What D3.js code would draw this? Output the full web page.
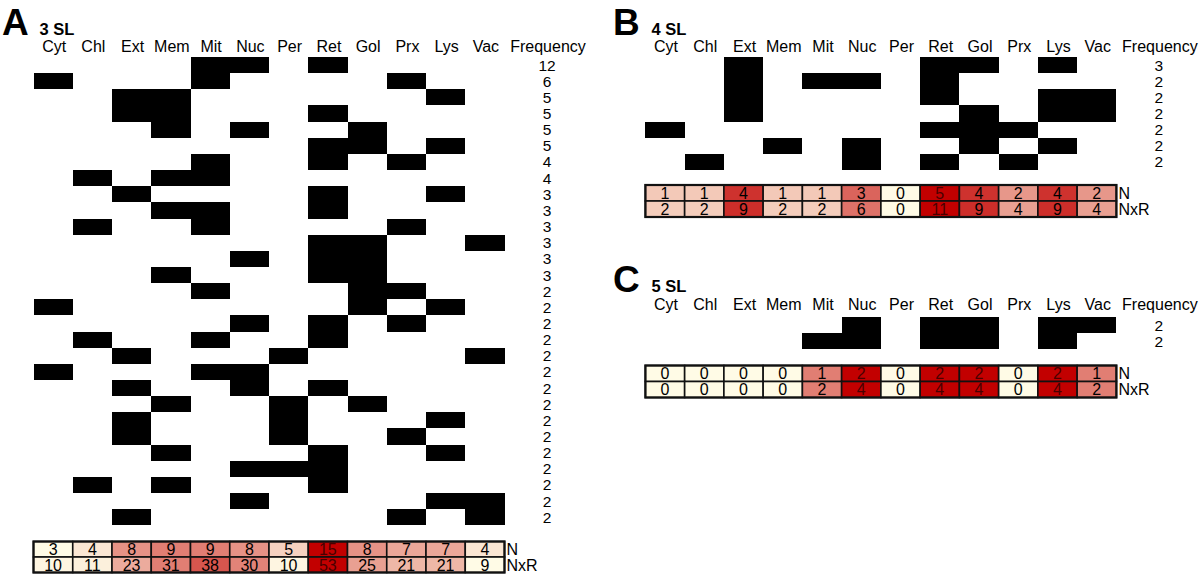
<!DOCTYPE html>
<html><head><meta charset="utf-8">
<script src="https://cdn.jsdelivr.net/npm/d3@7"></script>
<style>html,body{margin:0;padding:0;background:#fff;}svg{display:block;font-family:"Liberation Sans",Arial,Helvetica,sans-serif;}</style>
</head><body><svg id="c" width="1200" height="575"></svg>
<script>
const locations = ["Cyt","Chl","Ext","Mem","Mit","Nuc","Per","Ret","Gol","Prx","Lys","Vac"];

// Panel A: 3 subcellular locations
const combosA = [
  ["Mit","Nuc","Ret"],["Cyt","Mit","Prx"],["Ext","Mem","Lys"],["Ext","Mem","Ret"],
  ["Mem","Nuc","Gol"],["Ret","Gol","Lys"],["Mit","Ret","Prx"],["Chl","Mem","Mit"],
  ["Ext","Ret","Lys"],["Mem","Mit","Ret"],["Chl","Mit","Prx"],["Ret","Gol","Vac"],
  ["Nuc","Ret","Gol"],["Mem","Ret","Gol"],["Mit","Gol","Prx"],["Cyt","Gol","Lys"],
  ["Nuc","Ret","Prx"],["Chl","Mit","Ret"],["Ext","Per","Vac"],["Cyt","Mit","Nuc"],
  ["Ext","Nuc","Ret"],["Mem","Per","Gol"],["Ext","Per","Lys"],["Ext","Per","Prx"],
  ["Mem","Ret","Lys"],["Nuc","Per","Ret"],["Chl","Mem","Ret"],["Nuc","Lys","Vac"],
  ["Ext","Prx","Vac"]
];
const freqA = [12,6,5,5,5,5,4,4,3,3,3,3,3,3,2,2,2,2,2,2,2,2,2,2,2,2,2,2,2];
const nA   = [3,4,8,9,9,8,5,15,8,7,7,4];
const nxrA = [10,11,23,31,38,30,10,53,25,21,21,9];

// Panel B: 4 subcellular locations
const combosB = [
  ["Ext","Ret","Gol","Lys"],["Ext","Mit","Nuc","Ret"],["Ext","Ret","Lys","Vac"],
  ["Ext","Gol","Lys","Vac"],["Cyt","Ret","Gol","Prx"],["Mem","Nuc","Gol","Lys"],
  ["Chl","Nuc","Ret","Prx"]
];
const freqB = [3,2,2,2,2,2,2];
const nB   = [1,1,4,1,1,3,0,5,4,2,4,2];
const nxrB = [2,2,9,2,2,6,0,11,9,4,9,4];

// Panel C: 5 subcellular locations
const combosC = [["Nuc","Ret","Gol","Lys","Vac"],["Mit","Nuc","Ret","Gol","Lys"]];
const freqC = [2,2];
const nC   = [0,0,0,0,1,2,0,2,2,0,2,1];
const nxrC = [0,0,0,0,2,4,0,4,4,0,4,2];

const svg = d3.select("#c");
const CW = 39.25;

function panel(cfg){
  const g = svg.append("g");
  const x = d3.scaleBand().domain(locations).range([cfg.x0, cfg.x0 + CW*locations.length]);
  const right = cfg.x0 + CW*locations.length;
  const freqX = right + 43.5;

  g.append("text").attr("x", cfg.letterX).attr("y", cfg.letterY)
    .attr("font-size", 37).attr("font-weight", "bold").text(cfg.letter);
  g.append("text").attr("x", cfg.x0 + 6).attr("y", cfg.letterY)
    .attr("font-size", 16.5).attr("font-weight", "bold").text(cfg.title);

  g.selectAll("text.hdr").data(locations).enter().append("text").attr("class","hdr")
    .attr("x", d => x(d) + x.bandwidth()/2 + 1).attr("y", cfg.headerY)
    .attr("text-anchor","middle").attr("font-size", 16).text(d => d);
  g.append("text").attr("x", freqX).attr("y", cfg.headerY).attr("text-anchor","middle")
    .attr("font-size", 16).text("Frequency");

  const y = d3.scaleBand().domain(d3.range(cfg.combos.length))
    .range([cfg.rowTop, cfg.rowTop + cfg.rh*cfg.combos.length]);

  const cells = [];
  cfg.combos.forEach((c,i) => c.forEach(l => cells.push({r:i, l})));
  g.selectAll("rect.cell").data(cells).enter().append("rect").attr("class","cell")
    .attr("x", d => x(d.l)).attr("y", d => y(d.r))
    .attr("width", x.bandwidth()).attr("height", y.bandwidth())
    .attr("shape-rendering","crispEdges")
    .attr("fill", "#000");

  g.selectAll("text.freq").data(cfg.freq).enter().append("text").attr("class","freq")
    .attr("x", freqX - 1).attr("y", (d,i) => y(i) + y.bandwidth()/2 + 5.5)
    .attr("text-anchor","middle").attr("font-size", 15.5).text(d => d);

  // heat table
  const rows = [{name:"N", vals:cfg.n},{name:"NxR", vals:cfg.nxr}];
  const ty = d3.scaleBand().domain(rows.map(r=>r.name)).range([cfg.tableTop, cfg.tableTop + 2*cfg.trh]);
  rows.forEach(row => {
    const col = d3.scaleLinear().domain(d3.extent(row.vals)).range(["#fffbe6","#c20000"])
      .interpolate(d3.interpolateRgb);
    const rg = g.append("g");
    rg.selectAll("rect").data(row.vals).enter().append("rect")
      .attr("x", (d,i) => x(locations[i])).attr("y", ty(row.name))
      .attr("width", x.bandwidth()).attr("height", ty.bandwidth())
      .attr("fill", d => col(d)).attr("stroke", "#111").attr("stroke-width", 1.6);
    rg.selectAll("text").data(row.vals).enter().append("text")
      .attr("x", (d,i) => x(locations[i]) + x.bandwidth()/2)
      .attr("y", ty(row.name) + ty.bandwidth()/2 + 5.8)
      .attr("text-anchor","middle").attr("font-size", 16)
      .attr("fill", d => (col.domain()[1] > col.domain()[0] && (d - col.domain()[0])/(col.domain()[1]-col.domain()[0]) > 0.85) ? "#4a0000" : "#000")
      .text(d => d);
    g.append("text").attr("x", right + 2).attr("y", ty(row.name) + ty.bandwidth()/2 + 5.8)
      .attr("font-size", 16).text(row.name);
  });
  g.append("rect").attr("x", cfg.x0).attr("y", cfg.tableTop)
    .attr("width", right - cfg.x0).attr("height", 2*cfg.trh)
    .attr("fill","none").attr("stroke","#111").attr("stroke-width", 2.2);
}

panel({letter:"A", title:"3 SL", x0:33.5, letterX:2, letterY:35, headerY:51.5,
  rowTop:57, rh:16.15, combos:combosA, freq:freqA, n:nA, nxr:nxrA, tableTop:541.5, trh:15.5});
panel({letter:"B", title:"4 SL", x0:645.4, letterX:613, letterY:35, headerY:51.5,
  rowTop:57, rh:16.15, combos:combosB, freq:freqB, n:nB, nxr:nxrB, tableTop:185, trh:16});
panel({letter:"C", title:"5 SL", x0:645.4, letterX:613, letterY:292, headerY:310,
  rowTop:317.3, rh:16, combos:combosC, freq:freqC, n:nC, nxr:nxrC, tableTop:365.5, trh:16});
</script></body></html>
